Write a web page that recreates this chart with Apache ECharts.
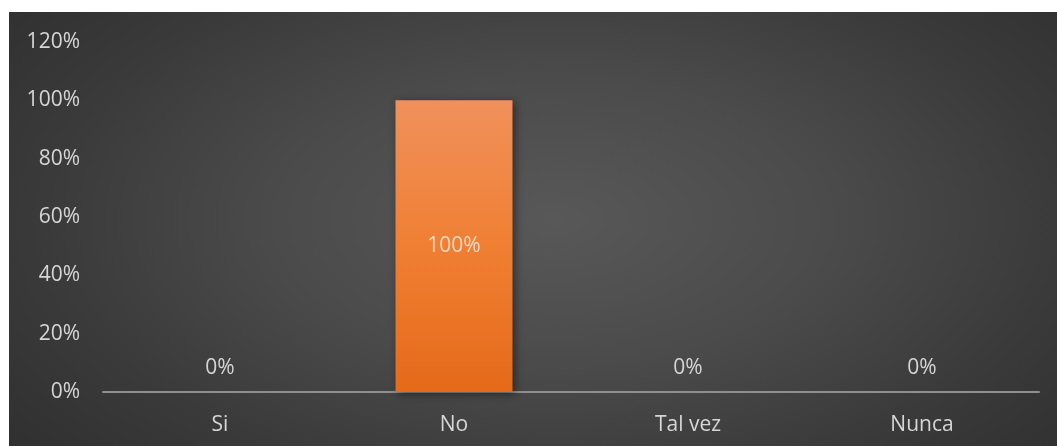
<!DOCTYPE html>
<html>
<head>
<meta charset="utf-8">
<script src="https://cdn.jsdelivr.net/npm/echarts@6/dist/echarts.min.js"></script>
<style>
  html, body { margin: 0; padding: 0; background: #ffffff; }
  #bg { position: absolute; left: 9px; top: 12px; width: 1048px; height: 434px;
        background: radial-gradient(ellipse 75% 95% at 52% 48%, #585858 0%, #4b4b4b 35%, #3a3a3a 65%, #2b2b2b 100%); }
  #chart { position: absolute; left: 0; top: 0; width: 1057px; height: 446px; }
</style>
</head>
<body>
<div id="bg"></div>
<div id="chart"></div>
<script>
const categories = ['Si', 'No', 'Tal vez', 'Nunca'];
const values = [0, 1, 0, 0];
const yTicks = { min: 0, max: 1.2, interval: 0.2 };

const chart = echarts.init(document.getElementById('chart'), null, { renderer: 'canvas' });
const font = '"Open Sans", "Noto Sans", sans-serif';
chart.setOption({
  backgroundColor: 'transparent',
  animation: false,
  grid: { left: 103, right: 18, top: 42, bottom: 54 },
  xAxis: {
    type: 'category',
    data: categories,
    axisLine: { lineStyle: { color: '#8f8f8f', width: 2 } },
    axisTick: { show: false },
    axisLabel: { color: '#d6d6d6', fontSize: 21, fontFamily: font, margin: 23 }
  },
  yAxis: {
    type: 'value',
    min: yTicks.min, max: yTicks.max, interval: yTicks.interval,
    splitLine: { show: false },
    axisLine: { show: false },
    axisTick: { show: false },
    axisLabel: {
      color: '#d6d6d6', fontSize: 21, fontFamily: font, margin: 23,
      formatter: v => Math.round(v * 100) + '%'
    }
  },
  series: [{
    type: 'bar',
    data: values.map(v => v > 0
      ? { value: v, label: { position: 'inside', color: '#f1d9c6' } }
      : { value: v }),
    barWidth: '50%',
    itemStyle: {
      color: new echarts.graphic.LinearGradient(0, 0, 0, 1, [
        { offset: 0, color: '#F0915B' },
        { offset: 0.5, color: '#F07F33' },
        { offset: 1, color: '#E56A1A' }
      ]),
      shadowBlur: 8, shadowColor: 'rgba(0,0,0,0.45)', shadowOffsetX: 2, shadowOffsetY: 2
    },
    label: {
      show: true,
      fontSize: 21, fontFamily: font,
      formatter: p => Math.round(p.value * 100) + '%',
      position: 'top',
      distance: 13,
      color: '#d6d6d6'
    }
  }]
});
</script>
</body>
</html>
